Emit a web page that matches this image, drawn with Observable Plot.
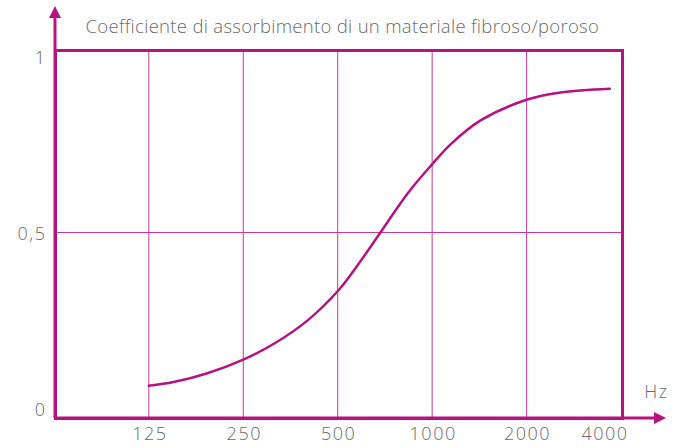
<!DOCTYPE html>
<html>
<head>
<meta charset="utf-8">
<script src="https://cdn.jsdelivr.net/npm/d3@7"></script>
<script src="https://cdn.jsdelivr.net/npm/@observablehq/plot@0.6"></script>
<style>
  html, body { margin: 0; padding: 0; background: #fff; }
  #chart svg { display: block; }
</style>
</head>
<body>
<div id="chart"></div>
<script>
const title = "Coefficiente di assorbimento di un materiale fibroso/poroso";
const xUnit = "Hz";
const xTicks = [125, 250, 500, 1000, 2000, 4000];
const yTicks = [0, 0.5, 1];
const yTickLabels = ["0", "0,5", "1"];
const curveFreq = [125, 150, 192, 250, 313, 400, 507, 578, 685, 834, 993, 1145, 1427, 2000, 2567, 3684];
const curveAlpha = [0.089, 0.099, 0.123, 0.160, 0.203, 0.266, 0.352, 0.416, 0.506, 0.611, 0.688, 0.745, 0.810, 0.866, 0.886, 0.896];

const magenta = "#b5137e";
const gridColor = "#c8399a";
const textColor = "#6b6b6b";
const font = "Open Sans, Noto Sans, sans-serif";

const curve = curveFreq.map((f, i) => ({f, a: curveAlpha[i]}));

// axis lines with filled arrowheads, drawn from frame dimensions
function axesArrows(index, scales, values, dim) {
  const g = d3.create("svg:g");
  const x0 = dim.marginLeft, y0 = dim.height - dim.marginBottom;
  const xR = dim.width - dim.marginRight, yT = dim.marginTop;
  const over = 44;
  g.append("line").attr("x1", x0).attr("x2", xR + over - 10).attr("y1", y0).attr("y2", y0)
    .attr("stroke", magenta).attr("stroke-width", 3);
  g.append("line").attr("x1", x0).attr("x2", x0).attr("y1", y0).attr("y2", yT - over + 10)
    .attr("stroke", magenta).attr("stroke-width", 3);
  g.append("path").attr("d", `M${xR + over},${y0} L${xR + over - 12},${y0 - 6} L${xR + over - 12},${y0 + 6} Z`)
    .attr("fill", magenta);
  g.append("path").attr("d", `M${x0},${yT - over} L${x0 - 6},${yT - over + 12} L${x0 + 6},${yT - over + 12} Z`)
    .attr("fill", magenta);
  return g.node();
}

const tickStyle = {fill: textColor, fontSize: 18, fontFamily: font, fontWeight: 300};
const yOffsets = [-8.5, 0, 8]; // label nudges for 0, 0.5, 1
const yLabelMarks = yTicks.map((t, i) =>
  Plot.text([t], {y: d => d, frameAnchor: "left", dx: -9, dy: yOffsets[i], text: () => yTickLabels[i], textAnchor: "end", ...tickStyle})
);

const plot = Plot.plot({
  width: 683,
  height: 448,
  marginLeft: 55,
  marginRight: 61,
  marginTop: 50,
  marginBottom: 30,
  style: {fontFamily: font, background: "#fff", overflow: "visible"},
  x: {type: "log", domain: [63, 4044], axis: null},
  y: {domain: [0, 1], axis: null},
  marks: [
    Plot.ruleX(xTicks.filter(d => d < 4000), {stroke: gridColor, strokeWidth: 1}),
    Plot.ruleY([0.5], {stroke: gridColor, strokeWidth: 1, dy: -2}),
    Plot.frame({stroke: magenta, strokeWidth: 3}),
    Plot.line(curve, {x: "f", y: "a", stroke: magenta, strokeWidth: 2.5, curve: "catmull-rom"}),
    axesArrows,
    Plot.text(xTicks.filter(d => d < 4000), {x: d => d, frameAnchor: "bottom", dy: 21, dx: 1, text: d => String(d), ...tickStyle}),
    Plot.text([4000], {x: d => d, frameAnchor: "bottom", dy: 21, dx: -16, text: d => String(d), ...tickStyle}),
    ...yLabelMarks,
    Plot.text([xUnit], {frameAnchor: "bottom-right", dx: 46, dy: -21, text: d => d, ...tickStyle}),
    Plot.text([title], {frameAnchor: "top-left", dx: 30, dy: -31, textAnchor: "start", text: d => d, fill: textColor, fontSize: 18.5, fontFamily: font, fontWeight: 300})
  ]
});
d3.select(plot).selectAll("text").each(function() {
  const t = this.textContent;
  if (t === title) this.style.letterSpacing = "0.3px";
  else this.style.letterSpacing = "1.5px";
});
document.getElementById("chart").appendChild(plot);
</script>
</body>
</html>
